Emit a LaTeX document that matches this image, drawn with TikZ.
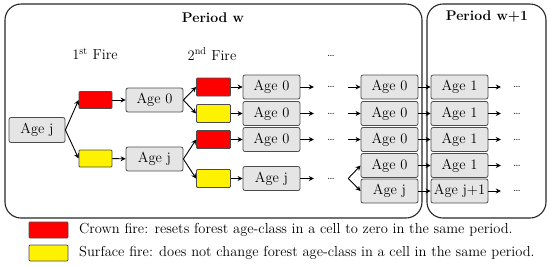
\documentclass[tikz,border=0pt]{standalone}
\usetikzlibrary{positioning,arrows.meta}
\usepackage{xcolor}

\begin{document}
\begin{tikzpicture}[x=1pt,y=-1pt,font=\fontsize{14.5}{16}\selectfont,
  agebox/.style={draw=black!70,fill=black!10,rounded corners=2pt,line width=0.8pt,inner sep=0pt,minimum width=57pt,minimum height=24pt},
  crown/.style={draw=black!70,fill=red,rounded corners=1pt,line width=0.8pt,inner sep=0pt,minimum width=34pt,minimum height=18pt},
  surface/.style={draw=black!70,fill=yellow,rounded corners=1pt,line width=0.8pt,inner sep=0pt,minimum width=34pt,minimum height=18pt},
  dotsnode/.style={inner sep=0pt,minimum width=34pt,minimum height=14pt,font=\fontsize{12}{13}\selectfont},
  arr/.style={-{Stealth[length=5pt,width=5pt]},line width=0.9pt},
  frame/.style={draw=black!85,line width=1.1pt,rounded corners=16pt}]
\useasboundingbox (0,0) rectangle (550,266);
% period frames
\draw[frame] (5,4) rectangle (422,218);
\draw[frame] (427,4) rectangle (546,218);
\node[font=\fontsize{14}{15}\selectfont\bfseries] (periodw) at (213,18) {Period w};
\node[font=\fontsize{14}{15}\selectfont\bfseries] (periodw1) at (487,17) {Period w+1};
\node (fire1) at (95,54) {1\textsuperscript{st} Fire};
\node (fire2) at (212,54) {2\textsuperscript{nd} Fire};
\node[dotsnode] (dotstop) at (331,56) {\dots};
% first fire
\node[agebox,minimum width=56pt,minimum height=25pt] (agej) at (37,130) {Age j};
\node[crown,minimum width=33pt,minimum height=17pt] (crowna) at (95.5,100) {};
\node[surface,minimum width=33pt,minimum height=17pt] (surfacea) at (95.5,158.5) {};
\node[agebox] (agezeroa) at (154.5,100) {Age 0};
\node[agebox] (agejone) at (154.5,159) {Age j};
% second fire
\node[crown] (crownb) at (213.5,87) {};
\node[surface] (surfaceb) at (213.5,113.5) {};
\node[crown] (crownc) at (213.5,139.5) {};
\node[surface] (surfacec) at (213.5,178.5) {};
\node[agebox] (ageb1) at (271.5,87) {Age 0};
\node[agebox] (ageb2) at (271.5,113.5) {Age 0};
\node[agebox] (ageb3) at (271.5,139.5) {Age 0};
\node[agebox] (ageb4) at (271.5,178.5) {Age j};
\node[dotsnode] (dotsb1) at (331,87) {\dots};
\node[dotsnode] (dotsb2) at (331,113.5) {\dots};
\node[dotsnode] (dotsb3) at (331,139.5) {\dots};
\node[dotsnode] (dotsb4) at (331,178.5) {\dots};
% end of period w
\node[agebox] (agec1) at (389.5,87) {Age 0};
\node[agebox] (agec2) at (389.5,113.5) {Age 0};
\node[agebox] (agec3) at (389.5,139.5) {Age 0};
\node[agebox] (agec4) at (389.5,165.5) {Age 0};
\node[agebox] (agec5) at (389.5,191) {Age j};
% period w+1
\node[agebox] (aged1) at (459.5,87) {Age 1};
\node[agebox] (aged2) at (459.5,113.5) {Age 1};
\node[agebox] (aged3) at (459.5,139.5) {Age 1};
\node[agebox] (aged4) at (459.5,165.5) {Age 1};
\node[agebox] (aged5) at (459.5,191) {Age j+1};
\node[dotsnode,minimum width=32pt] (dotsd1) at (517,87) {\dots};
\node[dotsnode,minimum width=32pt] (dotsd2) at (517,113.5) {\dots};
\node[dotsnode,minimum width=32pt] (dotsd3) at (517,139.5) {\dots};
\node[dotsnode,minimum width=32pt] (dotsd4) at (517,165.5) {\dots};
\node[dotsnode,minimum width=32pt] (dotsd5) at (517,191) {\dots};
% arrows
\draw[arr] (agej.east) -- (crowna.west);
\draw[arr] (agej.east) -- (surfacea.west);
\draw[arr] (crowna) -- (agezeroa);
\draw[arr] (surfacea) -- (agejone);
\draw[arr] (agezeroa.east) -- (crownb.west);
\draw[arr] (agezeroa.east) -- (surfaceb.west);
\draw[arr] (agejone.east) -- (crownc.west);
\draw[arr] (agejone.east) -- (surfacec.west);
\draw[arr] (crownb) -- (ageb1);
\draw[arr] (surfaceb) -- (ageb2);
\draw[arr] (crownc) -- (ageb3);
\draw[arr] (surfacec) -- (ageb4);
\draw[arr] (ageb1) -- (dotsb1);
\draw[arr] (ageb2) -- (dotsb2);
\draw[arr] (ageb3) -- (dotsb3);
\draw[arr] (ageb4) -- (dotsb4);
\draw[arr] (dotsb1) -- (agec1);
\draw[arr] (dotsb2) -- (agec2);
\draw[arr] (dotsb3) -- (agec3);
\draw[arr] (dotsb4.east) -- (agec4.west);
\draw[arr] (dotsb4.east) -- (agec5.west);
\draw[arr] (agec1) -- (aged1);
\draw[arr] (agec2) -- (aged2);
\draw[arr] (agec3) -- (aged3);
\draw[arr] (agec4) -- (aged4);
\draw[arr] (agec5) -- (aged5);
\draw[arr] (aged1) -- (dotsd1);
\draw[arr] (aged2) -- (dotsd2);
\draw[arr] (aged3) -- (dotsd3);
\draw[arr] (aged4) -- (dotsd4);
\draw[arr] (aged5) -- (dotsd5);
% legend
\node[crown,minimum width=39pt,minimum height=16pt] (crownkey) at (48.5,230) {};
\node[surface,minimum width=39pt,minimum height=16pt] (surfacekey) at (48.5,253) {};
\node[anchor=west,inner sep=0pt] (crowntext) at (79,230) {Crown fire: resets forest age-class in a cell to zero in the same period.};
\node[anchor=west,inner sep=0pt] (surfacetext) at (79,253) {Surface fire: does not change forest age-class in a cell in the same period.};
\end{tikzpicture}
\end{document}
